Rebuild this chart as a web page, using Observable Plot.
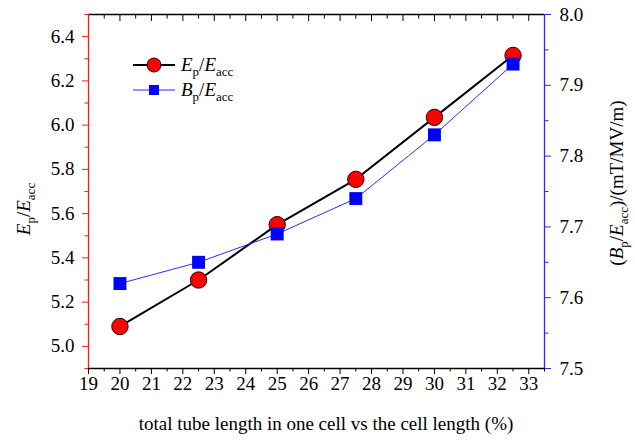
<!DOCTYPE html>
<html>
<head>
<meta charset="utf-8">
<script src="https://cdn.jsdelivr.net/npm/d3@7"></script>
<script src="https://cdn.jsdelivr.net/npm/@observablehq/plot@0.6"></script>
<style>
  html, body { margin: 0; padding: 0; background: #fff; }
  svg { display: block; }
  svg text, svg tspan { font-family: 'Liberation Serif', 'Times New Roman', serif !important; }
</style>
</head>
<body>
<div id="chart"></div>
<script>
// ---- data ----
const xValues = [20, 22.5, 25, 27.5, 30, 32.5];
const epValues = [5.09, 5.30, 5.55, 5.755, 6.035, 6.315];
const bpValues = [7.62, 7.65, 7.69, 7.74, 7.83, 7.93];

const xDomain = [19, 33.5];
const epDomain = [4.9, 6.5];
const bpDomain = [7.5, 8.0];

const xTicks = [19, 20, 21, 22, 23, 24, 25, 26, 27, 28, 29, 30, 31, 32, 33];
const xMinor = [19.5, 20.5, 21.5, 22.5, 23.5, 24.5, 25.5, 26.5, 27.5, 28.5, 29.5, 30.5, 31.5, 32.5, 33.5];
const leftTicks = [5.0, 5.2, 5.4, 5.6, 5.8, 6.0, 6.2, 6.4];
const leftMinor = [4.9, 5.1, 5.3, 5.5, 5.7, 5.9, 6.1, 6.3, 6.5];
const rightTicks = [7.5, 7.6, 7.7, 7.8, 7.9, 8.0];
const rightMinor = [7.55, 7.65, 7.75, 7.85, 7.95];

const FONT = "'Liberation Serif', 'Times New Roman', serif";
const RED = "#ff1a1a";
const BLUE = "#2a2aff";

// map right-axis values onto the left (primary) y scale
const bpToY = d3.scaleLinear().domain(bpDomain).range(epDomain);
const rows = xValues.map((x, i) => ({x, ep: epValues[i], bp: bpToY(bpValues[i])}));

const plot = Plot.plot({
  width: 635,
  height: 440,
  marginLeft: 88,
  marginRight: 91,
  marginTop: 14,
  marginBottom: 72,
  style: {fontFamily: FONT, fontSize: "19px", background: "white", color: "black", overflow: "visible"},
  x: {domain: xDomain},
  y: {domain: epDomain},
  marks: [
    Plot.axisX(xTicks, {anchor: "bottom", tickSize: 6, tickPadding: 2, fontSize: 19, label: null, tickFormat: d => String(d)}),
    Plot.axisX(xMinor, {anchor: "bottom", tickSize: 3.5, fill: "none", label: null}),
    Plot.axisX(xTicks, {anchor: "top", tickSize: -6, fill: "none", label: null}),
    Plot.axisX(xMinor, {anchor: "top", tickSize: -3.5, fill: "none", label: null}),
    Plot.axisY(leftTicks, {anchor: "left", tickSize: 6, tickPadding: 8, fontSize: 19, stroke: RED, fill: "black", label: null, tickFormat: d3.format(".1f")}),
    Plot.axisY(leftMinor, {anchor: "left", tickSize: 3.5, stroke: RED, fill: "none", label: null}),
    Plot.axisY(rightTicks.map(bpToY), {anchor: "right", tickSize: 6, tickPadding: 9, fontSize: 19, stroke: BLUE, fill: "black", label: null, tickFormat: d => bpToY.invert(d).toFixed(1)}),
    Plot.axisY(rightMinor.map(bpToY), {anchor: "right", tickSize: 3.5, stroke: BLUE, fill: "none", label: null}),
    Plot.ruleY([epDomain[0]], {stroke: "black", strokeWidth: 1.3}),
    Plot.ruleY([epDomain[1]], {stroke: "black", strokeWidth: 1.3}),
    Plot.ruleX([xDomain[0]], {stroke: RED, strokeWidth: 1.3}),
    Plot.ruleX([xDomain[1]], {stroke: BLUE, strokeWidth: 1.3}),
    Plot.line(rows, {x: "x", y: "ep", stroke: "black", strokeWidth: 2}),
    Plot.dot(rows, {x: "x", y: "ep", r: 8.2, fill: "#ff0000", stroke: "#2a0000", strokeWidth: 1}),
    Plot.line(rows, {x: "x", y: "bp", stroke: BLUE, strokeWidth: 1}),
    Plot.dot(rows, {x: "x", y: "bp", symbol: "square", r: 7.3, fill: "#0000ff", stroke: "none"})
  ]
});

document.getElementById("chart").appendChild(plot);

// ---- rich text (italics + subscripts) ----
const svg = d3.select(plot);
function rich(x, y, parts, opts = {}) {
  const t = svg.append("text")
    .attr("font-family", FONT)
    .attr("font-size", opts.size || 19)
    .attr("fill", "black")
    .attr("text-anchor", opts.anchor || "start")
    .attr("transform", `translate(${x},${y})` + (opts.rotate ? ` rotate(${opts.rotate})` : ""));
  let shifted = 0;
  for (const p of parts) {
    const s = t.append("tspan").text(p.t);
    if (p.i) s.attr("font-style", "italic");
    const want = p.sub ? 5 : 0;
    if (want !== shifted) { s.attr("dy", want - shifted); shifted = want; }
    if (p.sub) s.attr("font-size", 13);
  }
  return t;
}
const EpEacc = [{t: "E", i: true}, {t: "p", sub: true}, {t: "/"}, {t: "E", i: true}, {t: "acc", sub: true}];
const BpEacc = [{t: "B", i: true}, {t: "p", sub: true}, {t: "/"}, {t: "E", i: true}, {t: "acc", sub: true}];

// axis titles
rich(326, 430, [{t: "total tube length in one cell vs the cell length (%)"}], {anchor: "middle"});
rich(30, 209, EpEacc, {anchor: "middle", rotate: -90});
rich(623, 183, [{t: "("}, ...BpEacc, {t: ")/(mT/MV/m)"}], {anchor: "middle", rotate: -90});

// legend
const lg = svg.append("g");
lg.append("line").attr("x1", 133).attr("x2", 175).attr("y1", 65).attr("y2", 65).attr("stroke", "black").attr("stroke-width", 2);
lg.append("circle").attr("cx", 154).attr("cy", 65).attr("r", 7).attr("fill", "#ff0000").attr("stroke", "#2a0000");
lg.append("line").attr("x1", 133).attr("x2", 175).attr("y1", 90).attr("y2", 90).attr("stroke", BLUE).attr("stroke-width", 1);
lg.append("rect").attr("x", 149).attr("y", 85).attr("width", 10).attr("height", 10).attr("fill", "#0000ff");
rich(181, 71, EpEacc);
rich(181, 96, BpEacc);
</script>
</body>
</html>
